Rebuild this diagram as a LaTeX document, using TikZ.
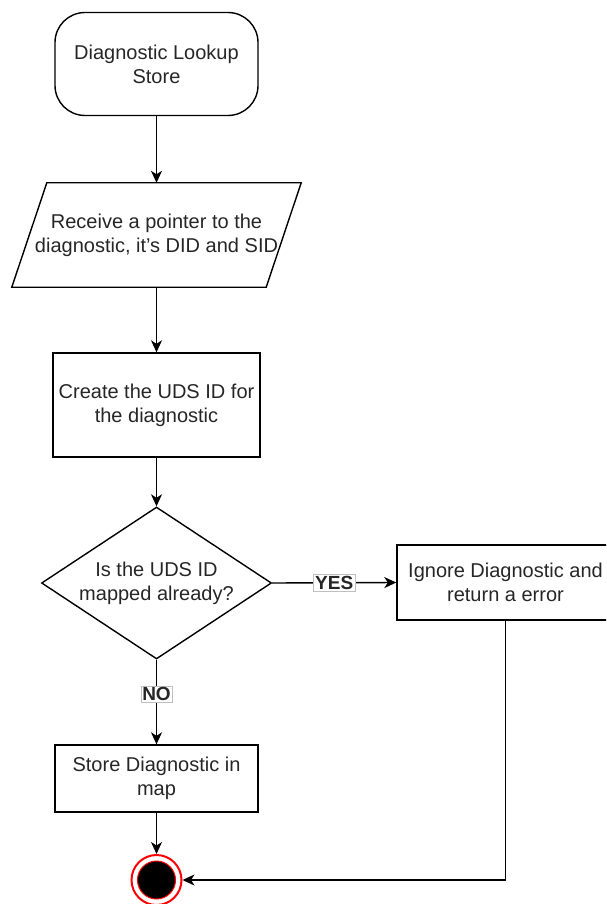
\documentclass[tikz,border=0pt]{standalone}
\usepackage{fontspec}
\setmainfont{Liberation Sans}
\usetikzlibrary{shapes.geometric,arrows.meta}

\begin{document}
\begin{tikzpicture}[x=1pt,y=-1pt,
  txt/.style={align=center, text=black!85, font=\fontsize{20}{24}\selectfont, inner sep=2pt},
  box/.style={txt, draw=black, line width=1.4pt},
  arrow/.style={draw=black, line width=1.4pt, -{Stealth[length=12pt,width=11pt,inset=3.5pt]}},
  lbl/.style={fill=white, draw=black!25, line width=0.5pt, inner sep=1.5pt, text=black!85,
    font=\bfseries\fontsize{19}{22}\selectfont}]
\useasboundingbox (0,0) rectangle (606,904);
\clip (0,0) rectangle (606,904);

% process steps
\node[box, rounded corners=30pt, minimum width=203pt, minimum height=103pt] (start) at (156.5,64)
  {Diagnostic Lookup\\Store};

\node[txt, minimum width=254pt, minimum height=104pt] (recv) at (156.5,235)
  {Receive a pointer to the\\diagnostic, it's DID and SID};
\draw[line width=1.4pt, line join=miter]
  ([xshift=17.5pt]recv.north west) -- ([xshift=17.5pt]recv.north east)
  -- ([xshift=-17.5pt]recv.south east) -- ([xshift=-17.5pt]recv.south west) -- cycle;

\node[box, minimum width=207pt, minimum height=104pt] (uds) at (156.5,405)
  {Create the UDS ID for\\the diagnostic};

\node[box, diamond, aspect=1.5, inner sep=0pt, minimum width=230pt, minimum height=152pt] (check) at (156.5,583)
  {Is the UDS ID\\mapped already?};

\node[box, minimum width=217pt, minimum height=75pt] (ignore) at (505.5,582.5)
  {Ignore Diagnostic and\\return a error};

\node[box, minimum width=203pt, minimum height=67pt] (store) at (156.5,778.5)
  {Store Diagnostic in\\map};

% end state
\node[circle, draw=red, line width=2pt, minimum size=50pt, inner sep=0pt] (end) at (156.5,880) {};
\node[circle, fill=black, draw=red, line width=1pt, minimum size=38pt, inner sep=0pt] (endcore) at (end) {};

% connectors
\draw[arrow] (start.south) -- (recv.north);
\draw[arrow] (recv.south) -- (uds.north);
\draw[arrow] (uds.south) -- (check.north);
\draw[arrow] (check.east) -- node[lbl] {YES} (ignore.west);
\draw[arrow] (check.south) -- node[lbl, pos=0.41] {NO} (store.north);
\draw[arrow] (store.south) -- (end.north);
\draw[arrow] (ignore.south) |- (end.east);
\end{tikzpicture}
\end{document}
